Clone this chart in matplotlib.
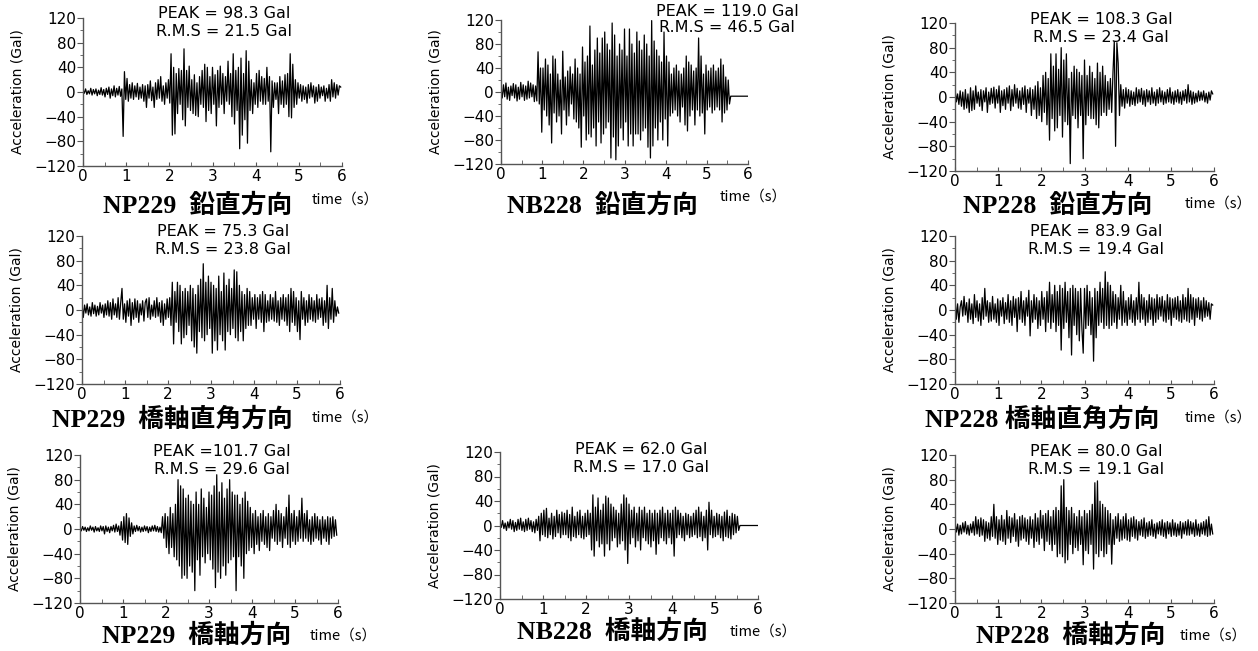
import numpy as np
import matplotlib
matplotlib.use('Agg')
import matplotlib.pyplot as plt
from matplotlib.ticker import MultipleLocator

plt.rcParams['font.family'] = ['DejaVu Sans', 'Noto Sans CJK JP']

DT = 0.03  # sampling step of the digitised records (s)

# NP229 鉛直方向
np229_ud = [
    3, -2, 5, -4, 2, -3, 6, -5, 4, -3,
    5, -6, 3, -4, 7, -5, 4, -8, 6, -4,
    8, -10, 5, -6, 10, -8, 6, -5, 9, -7,
    5, -72, 33, -12, 22, -15, 12, -10, 15, -12,
    10, -8, 14, -12, 8, -10, 12, -15, 10, -25,
    12, -10, 18, -14, 8, -25, 15, -12, 20, -10,
    25, -15, 10, -20, 15, -10, 20, -18, 62, -70,
    40, -68, 30, -35, 38, -20, 35, -45, 70, -55,
    35, -25, 42, -30, 20, -35, 28, -38, 15, -40,
    25, -20, 35, -25, 45, -48, 40, -30, 25, -35,
    40, -20, 28, -55, 35, -25, 42, -20, 30, -35,
    25, -15, 50, -20, 30, -40, 62, -52, 35, -30,
    40, -92, 55, -70, 30, -45, 67, -83, 50, -30,
    20, -35, 15, -20, 30, -25, 35, -15, 25, -20,
    22, -20, 40, -15, 25, -97, 18, -25, 15, -12,
    15, -35, 25, -20, 18, -25, 28, -20, 30, -40,
    62, -42, 45, -25, 20, -20, 15, -10, 12, -15,
    10, -12, 8, -18, 12, -10, 15, -8, 10, -18,
    8, -15, 12, -10, 8, -6, 10, -15, 6, -10,
    12, -15, 20, -8, 15, -10, 12, -5, 10, 8,
]

# NB228 鉛直方向 (record ends at about 5.55 s, then a flat line)
nb228_ud = [
    5, -10, 12, -8, 15, -12, 8, -14, 10, -6,
    14, -10, 12, -15, 8, -12, 16, -8, 12, -14,
    10, -12, 18, -10, 15, -8, 12, -16, 10, -15,
    67, -20, 40, -67, 40, -30, 55, -40, 45, -55,
    30, -85, 60, -35, 55, -50, 30, -40, 20, -70,
    68, -30, 25, -55, 35, -40, 42, -20, 30, -45,
    55, -50, 40, -60, 30, -92, 75, -40, 50, -80,
    60, -70, 110, -75, 45, -60, 70, -90, 90, -50,
    65, -85, 90, -70, 100, -60, 80, -50, 70, -110,
    115, -75, 95, -113, 60, -90, 80, -60, 70, -80,
    105, -50, 60, -90, 105, -70, 80, -90, 65, -70,
    100, -70, 85, -80, 70, -65, 95, -60, 80, -92,
    60, -110, 119, -90, 85, -60, 70, -80, 60, -50,
    50, -80, 100, -45, 60, -90, 50, -40, 30, -35,
    40, -30, 45, -40, 35, -50, 30, -25, 40, -55,
    60, -65, 50, -40, 45, -30, 35, -55, 40, -30,
    90, -40, 60, -35, 30, -70, 45, -30, 35, -25,
    40, -35, 45, -30, 35, -25, 40, -30, 55, -50,
    45, -35, 25, -30, 20, -20,
]
nb228_ud_tail_t = [5.58, 6.0]
nb228_ud_tail_a = [-7, -7]

# NP228 鉛直方向
np228_ud = [
    15, -8, 5, -12, 10, -15, 8, -20, 12, -18,
    5, -25, 15, -22, 10, -20, 18, -10, 8, -15,
    12, -22, 10, -8, 15, -25, 8, -12, 14, -10,
    16, -18, 12, -10, 18, -25, 10, -14, 12, -20,
    15, -10, 18, -22, 12, -15, 20, -10, 14, -18,
    10, -20, 15, -12, 18, -25, 12, -10, 15, -30,
    12, -20, 18, -35, 25, -30, 15, -40, 35, -25,
    40, -45, 30, -70, 70, -35, 50, -55, 70, -50,
    45, -30, 80, -65, 60, -40, 70, -45, 30, -108,
    40, -30, 50, -35, 45, -50, 40, -30, 35, -100,
    60, -45, 35, -30, 50, -35, 40, -35, 30, -45,
    55, -50, 40, -30, 50, -25, 35, -30, 25, -20,
    30, -25, 40, 90, -80, 88, 55, -30, 20, -15,
    12, -18, 15, -10, 12, -15, 10, -12, 8, -14,
    15, -10, 12, -8, 14, -12, 10, -15, 12, -8,
    10, -12, 15, -10, 8, -14, 12, -10, 15, -8,
    10, -12, 8, -10, 12, -8, 15, -10, 8, -12,
    10, -8, 12, -10, 8, -12, 10, -6, 12, -10,
    20, -8, 10, -12, 8, -10, 6, -8, 10, -6,
    8, -5, 10, -8, 6, -10, 8, -5, 10, 5,
]

# NP229 橋軸直角方向
np229_tr = [
    10, -12, 8, -5, 10, -8, 5, -10, 12, -6,
    8, -10, 6, -8, 12, -5, 8, -12, 10, -8,
    15, -10, 12, -15, 18, -8, 10, -12, 20, -15,
    12, 35, -15, 10, -20, 15, -10, 18, -25, 12,
    -15, 18, -12, 15, -20, 10, -8, 15, -18, 12,
    18, -12, 20, -15, 8, -10, 15, -12, 20, -10,
    12, -20, 15, -25, 10, -15, 18, -12, 20, -25,
    45, -55, 30, -20, 45, -35, 40, -55, 30, -45,
    35, -40, 30, -25, 40, -50, 35, -60, 25, -70,
    40, -35, 50, -45, 75, -50, 45, -40, 55, -30,
    45, -70, 40, -50, 35, -65, 55, -40, 30, -50,
    60, -65, 40, -35, 50, -40, 35, -30, 65, -45,
    62, -50, 40, -35, 30, -50, 25, -30, 35, -25,
    30, -25, 20, -15, 25, -30, 20, -15, 25, -20,
    30, -35, 25, -20, 15, -18, 25, -15, 20, -18,
    30, -20, 15, -25, 20, -15, 25, -18, 20, -25,
    25, -35, 35, -20, 30, -25, 20, -35, 15, -48,
    30, -15, 20, -25, 15, -20, 25, -15, 20, -18,
    15, -20, 25, -15, 18, -12, 20, -25, 15, -20,
    40, -30, 20, -15, 35, -20, 15, -10, 5, -5,
]

# NP228 橋軸直角方向
np228_tr = [
    20, -15, 10, -20, 5, 15, -10, 22, -8, 12,
    -20, 18, -15, 10, -22, 25, -12, 15, -18, 10,
    -25, 20, -15, 35, -10, 15, -20, 12, -18, 22,
    -15, 10, -20, 18, -25, 15, -10, 20, -22, 12,
    -15, 25, -20, 15, -25, 22, -12, 18, -35, 20,
    -15, 30, -20, 15, -25, 20, -10, 32, -42, 15,
    -20, 25, -15, 20, -30, 15, -25, 30, -15, 20,
    -35, 30, -20, 45, -30, 25, -20, 40, -35, 30,
    -25, 40, -65, 35, -30, 45, -20, 30, -45, 35,
    -73, 40, -25, 35, -40, 30, -50, 35, -30, -70,
    35, -30, 40, -25, 30, -40, 20, -83, 35, -45,
    30, -25, 45, -20, 35, -30, 62, -25, 45, -30,
    40, -25, 30, -20, 25, -30, 20, -15, 40, -25,
    30, -20, 15, -25, 20, -15, 25, -20, 15, -25,
    20, -15, 45, -20, 25, -15, 20, -25, 15, -20,
    25, -15, 20, -25, 18, -20, 25, -15, 20, -10,
    22, -18, 15, -20, 25, -15, 20, -25, 18, -12,
    20, -15, 22, -18, 15, -20, 25, -15, 20, -18,
    35, -20, 25, -15, 20, -25, 18, -12, 20, -15,
    15, -18, 20, -12, 15, -10, 12, -15, 10, 8,
]

# NP229 橋軸方向
np229_lg = [
    2, -3, 4, -2, 3, -4, 2, -3, 5, -2,
    3, -5, 4, -3, 2, -4, 5, -3, 4, -8,
    5, -4, 3, -6, 4, -3, 6, -5, 8, -4,
    5, -10, 12, -18, 20, -22, 25, -25, 18, -12,
    10, -8, 5, -4, 6, -3, 4, -5, 3, -4,
    5, -3, 4, -6, 3, -4, 5, -3, 6, -4,
    4, -5, 3, -6, 20, -15, 25, -30, 20, -40,
    35, -30, 25, -45, 40, -50, 80, -60, 70, -80,
    65, -75, 50, -80, 55, -60, 45, -70, 40, -100,
    60, -50, 40, -75, 65, -45, 50, -55, 35, -40,
    60, -50, 55, -65, 70, -95, 88, -70, 60, -80,
    75, -60, 50, -75, 65, -55, 80, -50, 60, -45,
    55, -100, 55, -45, 40, -60, 50, -80, 60, -40,
    45, -35, 35, -30, 25, -40, 30, -25, 20, -35,
    25, -20, 30, -25, 20, -30, 25, -35, 20, -15,
    30, -20, 40, -25, 30, -20, 25, -30, 20, -15,
    35, -25, 55, -30, 25, -20, 30, -25, 20, -20,
    30, -15, 50, -20, 25, -15, 30, -20, 15, -25,
    20, -20, 25, -15, 20, -18, 15, -25, 20, -15,
    15, -20, 20, -25, 18, -15, 20, -12, 15, -10,
]

# NB228 橋軸方向 (record ends at about 5.55 s, then a flat line)
nb228_lg = [
    5, -3, 8, -5, 4, -8, 6, -4, 10, -6,
    8, -10, 5, -8, 10, -6, 12, -8, 6, -10,
    10, -8, 12, -6, 8, -10, 6, -12, 10, -8,
    15, -25, 20, -15, 25, -18, 28, -20, 12, -15,
    20, -22, 15, -18, 25, -12, 18, -20, 22, -15,
    20, -15, 25, -20, 18, -25, 30, -18, 15, -20,
    22, -15, 25, -20, 15, -22, 20, -18, 25, -15,
    20, -40, 50, -50, 30, -25, 45, -35, 25, -30,
    35, -50, 48, -30, 45, -40, 35, -25, 30, -20,
    25, -35, 20, -30, 35, -25, 50, -40, 45, -62,
    35, -30, 25, -20, 30, -35, 20, -25, 30, -40,
    25, -20, 30, -25, 20, -30, 25, -35, 20, -25,
    25, -47, 20, -30, 25, -20, 30, -25, 20, -30,
    25, -20, 20, -30, 25, -50, 30, -20, 25, -15,
    20, -20, 15, -25, 20, -15, 18, -20, 15, -18,
    20, -15, 25, -20, 30, -18, 22, -25, 15, -20,
    25, -40, 38, -15, 25, -20, 15, -18, 20, -15,
    18, -20, 15, -25, 22, -18, 25, -20, 15, -22,
    20, -15, 18, -12, 15, -8,
]
nb228_lg_tail_t = [5.58, 6.0]
nb228_lg_tail_a = [0, 0]

# NP228 橋軸方向
np228_lg = [
    10, -5, 8, -10, 6, -8, 10, -5, 12, -8,
    6, -10, 8, -6, 12, -10, 20, -8, 15, -12,
    18, -10, 15, -20, 12, -15, 10, -18, 20, -12,
    40, -15, 20, -25, 15, -18, 22, -20, 15, -25,
    30, -15, 20, -22, 18, -12, 25, -20, 15, -28,
    20, -18, 22, -15, 18, -20, 15, -25, 20, -15,
    15, -30, 25, -20, 18, -25, 30, -15, 22, -35,
    25, -20, 30, -25, 20, -35, 30, -25, 35, -45,
    30, -40, 70, -45, 80, -55, 35, -50, 30, -25,
    35, -40, 25, -30, 20, -35, 30, -25, 20, -58,
    30, -35, 25, -40, 30, -25, 40, -65, 75, -40,
    78, -45, 45, -35, 40, -45, 35, -40, 30, -25,
    25, -57, 15, -25, 20, -15, 25, -20, 15, -18,
    20, -15, 25, -18, 15, -20, 18, -12, 20, -15,
    15, -18, 12, -10, 15, -12, 18, -15, 10, -12,
    12, -10, 15, -12, 8, -15, 10, -8, 12, -10,
    15, -12, 10, -15, 12, -8, 10, -12, 15, -10,
    10, -12, 8, -10, 12, -15, 10, -8, 12, -10,
    15, -10, 12, -8, 10, -12, 15, -10, 8, -12,
    10, -8, 12, -10, 15, -12, 20, -10, 8, -8,
]

titles = ['NP229  鉛直方向', 'NB228  鉛直方向', 'NP228  鉛直方向',
          'NP229  橋軸直角方向', 'NP228 橋軸直角方向',
          'NP229  橋軸方向', 'NB228  橋軸方向', 'NP228  橋軸方向']
peak_labels = ['PEAK = 98.3 Gal', 'PEAK = 119.0 Gal', 'PEAK = 108.3 Gal',
               'PEAK = 75.3 Gal', 'PEAK = 83.9 Gal',
               'PEAK =101.7 Gal', 'PEAK = 62.0 Gal', 'PEAK = 80.0 Gal']
rms_labels = ['R.M.S = 21.5 Gal', 'R.M.S = 46.5 Gal', 'R.M.S = 23.4 Gal',
              'R.M.S = 23.8 Gal', 'R.M.S = 19.4 Gal',
              'R.M.S = 29.6 Gal', 'R.M.S = 17.0 Gal', 'R.M.S = 19.1 Gal']
records = [np229_ud, nb228_ud, np228_ud, np229_tr, np228_tr,
           np229_lg, nb228_lg, np228_lg]
tails = [None, (nb228_ud_tail_t, nb228_ud_tail_a), None, None, None,
         None, (nb228_lg_tail_t, nb228_lg_tail_a), None]

W, H = 1258, 651

# layout in pixels: axes box (left, top, right, bottom), title centre,
# "time (s)" left/centre, stats centre x and the y of the two stats lines
layout = [
    ((83, 18, 342, 166), (198, 206), (312, 200), (224, 14, 31)),
    ((501, 20, 748, 164), (602, 206), (720, 197), (727, 11, 28)),
    ((955, 23, 1214, 171), (1058, 206), (1185, 204), (1101, 19, 37)),
    ((82, 236, 340, 384), (172, 420), (312, 418), (223, 232, 250)),
    ((955, 236, 1214, 384), (1042, 420), (1185, 418), (1096, 232, 250)),
    ((80, 455, 338, 603), (197, 636), (310, 636), (222, 452, 469)),
    ((500, 452, 758, 599), (612, 632), (730, 632), (641, 449, 467)),
    ((955, 455, 1214, 603), (1071, 636), (1180, 636), (1096, 452, 470)),
]

SPINE = '#555555'

fig = plt.figure(figsize=(W / 100, H / 100), dpi=100)

for rec, tail, title, pk, rm, lay in zip(records, tails, titles,
                                          peak_labels, rms_labels, layout):
    (l, t, r, b), (tx, ty), (sx, sy), (cx, cy1, cy2) = lay
    ax = fig.add_axes([l / W, 1 - b / H, (r - l) / W, (b - t) / H])

    time = np.arange(len(rec)) * DT
    accel = np.asarray(rec, dtype=float)
    if tail is not None:
        time = np.r_[time, tail[0]]
        accel = np.r_[accel, tail[1]]
    ax.plot(time, accel, color='black', lw=0.9)

    ax.set_xlim(0, 6)
    ax.set_ylim(-120, 120)
    ax.xaxis.set_major_locator(MultipleLocator(1))
    ax.xaxis.set_minor_locator(MultipleLocator(0.5))
    ax.yaxis.set_major_locator(MultipleLocator(40))
    ax.yaxis.set_minor_locator(MultipleLocator(20))
    for side in ('top', 'right'):
        ax.spines[side].set_visible(False)
    for side in ('left', 'bottom'):
        ax.spines[side].set_color(SPINE)
        ax.spines[side].set_linewidth(1.0)
    ax.tick_params(axis='y', which='major', direction='out', length=4,
                   color=SPINE, labelsize=11, pad=1)
    ax.tick_params(axis='y', which='minor', direction='out', length=2,
                   color=SPINE)
    ax.tick_params(axis='x', which='both', direction='in', length=3,
                   color=SPINE, labelsize=11, pad=2)
    ax.set_ylabel('Acceleration (Gal)', fontsize=10, labelpad=7)
    ax.patch.set_alpha(0)

    fig.text(tx / W, 1 - ty / H, title, ha='center', va='center',
             fontsize=18.5, fontweight='bold',
             family=['Liberation Serif', 'Noto Sans CJK JP'])
    fig.text(sx / W, 1 - sy / H, 'time（s）', ha='left', va='center',
             fontsize=10.5, family=['Noto Sans CJK JP', 'DejaVu Sans'])
    fig.text(cx / W, 1 - cy1 / H, pk, ha='center', va='center', fontsize=11.5)
    fig.text(cx / W, 1 - cy2 / H, rm, ha='center', va='center', fontsize=11.5)

fig.savefig('out.png', dpi=100)
